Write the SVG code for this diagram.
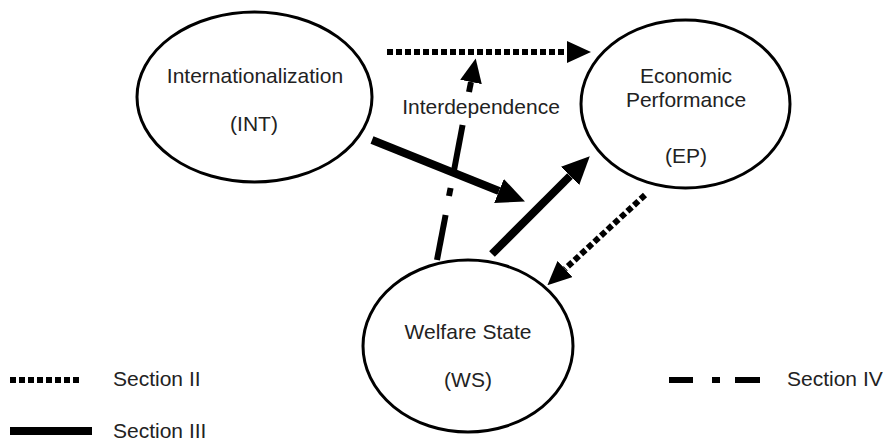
<svg xmlns="http://www.w3.org/2000/svg" width="885" height="441" viewBox="0 0 885 441">
<style>
.node ellipse{fill:#fff;stroke:#000;stroke-width:3}
text{font-family:"Liberation Sans",Arial,sans-serif;font-size:21px;fill:#222;text-anchor:middle}
.lg{text-anchor:start}
.dot{stroke:#000;stroke-width:6;stroke-dasharray:6 3;fill:none}
.solid{stroke:#000;stroke-width:8;fill:none}
.dd{stroke:#000;stroke-width:6;fill:none}
</style>
<defs>
<marker id="ah" markerUnits="userSpaceOnUse" markerWidth="24" markerHeight="22" refX="0" refY="11" orient="auto">
<path d="M0,0 L24,11 L0,22 z" fill="#000"/>
</marker>
<marker id="ahs" markerUnits="userSpaceOnUse" markerWidth="28" markerHeight="26" refX="0" refY="13" orient="auto">
<path d="M0,0 L28,13 L0,26 z" fill="#000"/>
</marker>
</defs>
<g id="INT" class="node">
<ellipse cx="254.5" cy="97" rx="117.5" ry="85"/>
<text x="255" y="83">Internationalization</text>
<text x="254" y="131">(INT)</text>
</g>
<g id="EP" class="node">
<ellipse cx="685.5" cy="104" rx="104.5" ry="84"/>
<text x="686" y="83">Economic</text>
<text x="686" y="107">Performance</text>
<text x="686" y="163">(EP)</text>
</g>
<g id="WS" class="node">
<ellipse cx="468" cy="346" rx="105" ry="86"/>
<text x="468" y="339">Welfare State</text>
<text x="468" y="387">(WS)</text>
</g>
<g id="connectors">
<line class="dot" x1="387" y1="52" x2="567" y2="52" marker-end="url(#ah)"/>
<line class="dot" x1="645" y1="195" x2="565" y2="269" marker-end="url(#ah)"/>
<line class="solid" x1="372" y1="140" x2="499" y2="191" marker-end="url(#ahs)"/>
<line class="solid" x1="492" y1="254" x2="570" y2="176" marker-end="url(#ahs)"/>
<line class="dd" x1="437" y1="260" x2="445.6" y2="215"/>
<line class="dd" x1="449" y1="196" x2="450.6" y2="188"/>
<line class="dd" x1="453.7" y1="172" x2="462.6" y2="125"/>
<line class="dd" x1="469" y1="92" x2="471" y2="82" marker-end="url(#ah)"/>
<text x="481" y="114">Interdependence</text>
</g>
<g id="legend">
<line class="dot" x1="10" y1="380" x2="82" y2="380"/>
<text class="lg" x="113" y="386">Section II</text>
<line class="solid" x1="10" y1="431" x2="92" y2="431"/>
<text class="lg" x="113" y="438">Section III</text>
<line class="dd" x1="669" y1="380" x2="693" y2="380"/>
<line class="dd" x1="712" y1="380" x2="720" y2="380"/>
<line class="dd" x1="735" y1="380" x2="760" y2="380"/>
<text class="lg" x="787" y="386">Section IV</text>
</g>
</svg>
